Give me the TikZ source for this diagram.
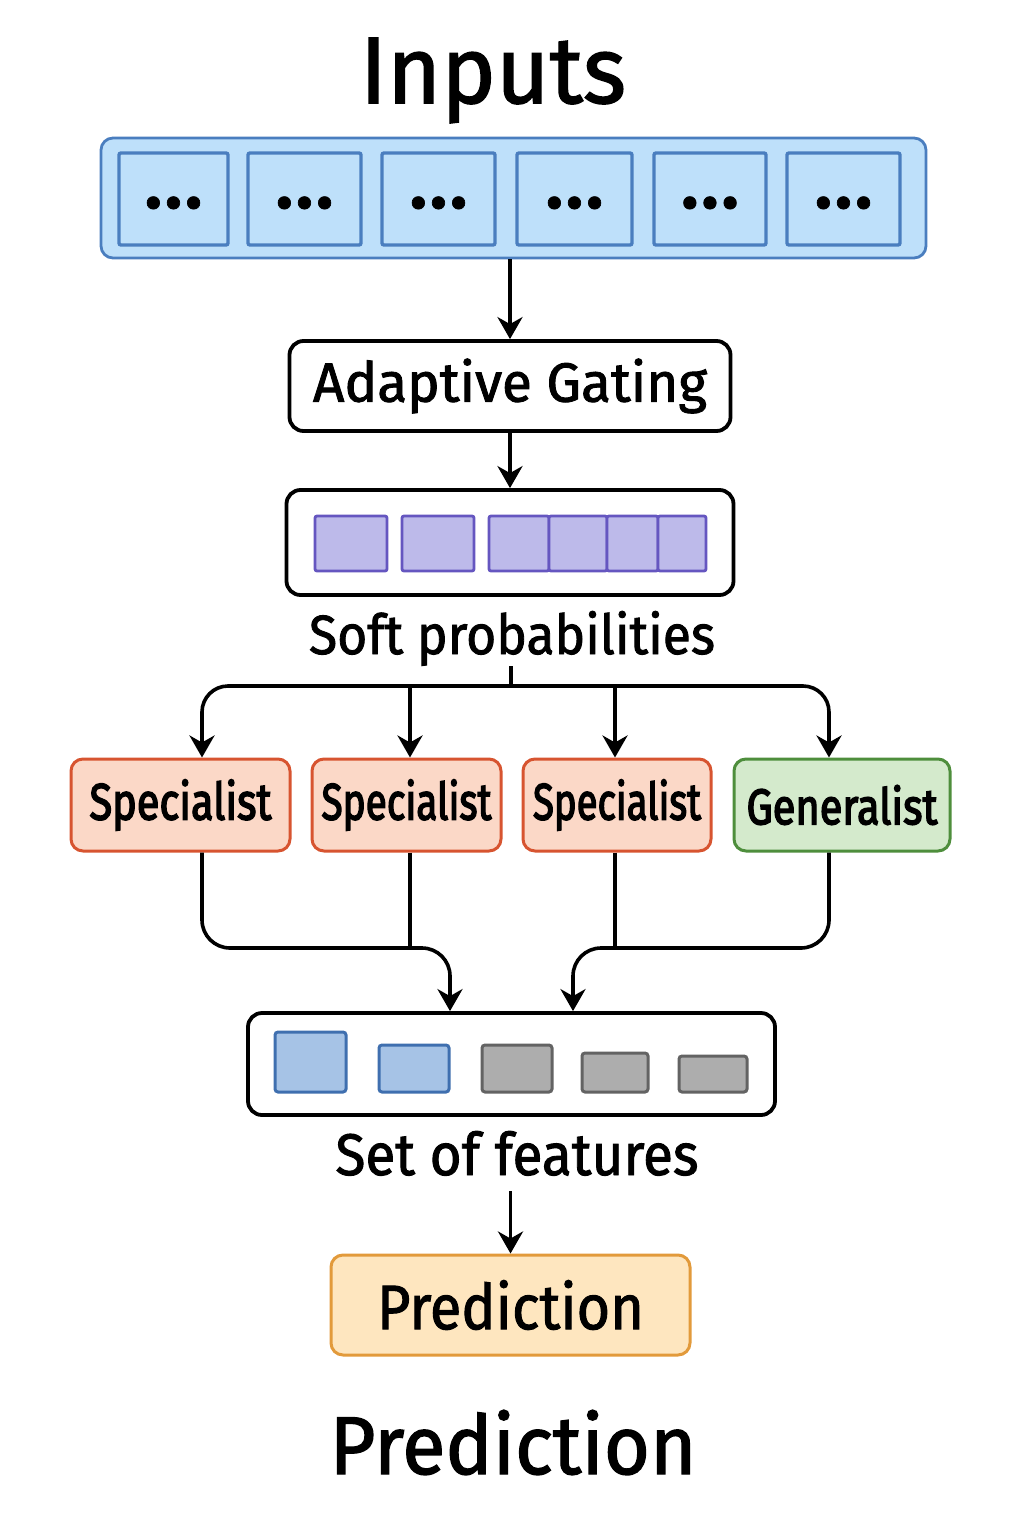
\documentclass[tikz,border=0pt]{standalone}
\usepackage{fontspec}
\setmainfont{Fira Sans}[FakeBold=1.2]
\newfontfamily\heavyfont{Fira Sans}[FakeBold=1.6]
\newfontfamily\semifont{Fira Sans}[FakeBold=3.2]
\usetikzlibrary{arrows.meta}
\definecolor{inpfill}{HTML}{BEE0FA}
\definecolor{inpdraw}{HTML}{4A7EBF}
\definecolor{purfill}{HTML}{BDBAEA}
\definecolor{purdraw}{HTML}{6556C0}
\definecolor{spfill}{HTML}{FBD8C7}
\definecolor{spdraw}{HTML}{D75430}
\definecolor{genfill}{HTML}{D4EACC}
\definecolor{gendraw}{HTML}{4E8E3C}
\definecolor{ftfill}{HTML}{A6C3E6}
\definecolor{ftdraw}{HTML}{3F6FAF}
\definecolor{gyfill}{HTML}{ADADAD}
\definecolor{gydraw}{HTML}{636363}
\definecolor{prfill}{HTML}{FEE6BF}
\definecolor{prdraw}{HTML}{E29A3B}
\newcommand{\threedots}{\raisebox{-11.5pt}[0pt][0pt]{\fontsize{28pt}{28pt}\selectfont\textbullet\kern1pt\textbullet\kern1pt\textbullet}}
\newcommand{\hv}[1]{{\heavyfont #1}}
\newcommand{\sm}[1]{{\semifont #1}}
\begin{document}
\begin{tikzpicture}[x=0.5pt,y=-0.5pt,
  box/.style={draw=black, line width=1.9pt, rounded corners=7pt, fill=white, inner sep=0pt},
  cell/.style={draw=inpdraw, fill=inpfill, line width=1.7pt, rounded corners=1pt, minimum height=46pt, inner sep=0pt},
  pur/.style={draw=purdraw, fill=purfill, line width=1.4pt, rounded corners=1pt, minimum height=27.5pt, inner sep=0pt},
  spec/.style={draw=spdraw, fill=spfill, line width=1.5pt, rounded corners=6pt, minimum height=46pt, inner sep=0pt},
  gen/.style={draw=gendraw, fill=genfill, line width=1.5pt, rounded corners=6pt, minimum height=46pt, inner sep=0pt},
  feat/.style={draw=ftdraw, fill=ftfill, line width=1.5pt, rounded corners=1.5pt, inner sep=0pt},
  grayf/.style={draw=gydraw, fill=gyfill, line width=1.5pt, rounded corners=1.5pt, inner sep=0pt},
  lbl/.style={anchor=base, inner sep=0pt},
  arr/.style={line width=1.8pt, -{Stealth[length=11pt,width=12.5pt,inset=3.5pt]}},
  ln/.style={line width=1.8pt}]
\useasboundingbox (0,0) rectangle (1024,1536);

% title
\node[lbl] (title) at (493,103) {\resizebox{133pt}{32.5pt}{\hv{Inputs}}};

% inputs
\node[draw=inpdraw, fill=inpfill, line width=1.4pt, rounded corners=6pt,
      minimum width=412.5pt, minimum height=60pt, inner sep=0pt] (inp) at (513.5,198) {};
\node[cell, minimum width=54.5pt] (c1) at (173.5,199) {\threedots};
\node[cell, minimum width=56.5pt] (c2) at (304.5,199) {\threedots};
\node[cell, minimum width=56.5pt] (c3) at (438.5,199) {\threedots};
\node[cell, minimum width=57.5pt] (c4) at (574.5,199) {\threedots};
\node[cell, minimum width=56pt]   (c5) at (710,199)   {\threedots};
\node[cell, minimum width=56.5pt] (c6) at (843.5,199) {\threedots};

% gating
\node[box, minimum width=220.5pt, minimum height=45pt] (gate) at (510,386)
  {\resizebox{197pt}{21.5pt}{\hv{Adaptive Gating}}};
\draw[arr] (inp.south -| gate.north) -- (gate.north);

% soft probabilities
\node[box, minimum width=223.5pt, minimum height=52.5pt] (soft) at (510,542.5) {};
\draw[arr] (gate.south) -- (soft.north);
\node[pur, minimum width=36pt] (pa) at (351,543.5) {};
\node[pur, minimum width=36pt] (pb) at (438,543.5) {};
\node[pur, minimum width=30pt] (pc1) at (519,543.5) {};
\node[pur, minimum width=29pt] (pc2) at (578,543.5) {};
\node[pur, minimum width=25.5pt] (pc3) at (632.5,543.5) {};
\node[pur, minimum width=24pt] (pc4) at (682,543.5) {};
\node[lbl] (softlab) at (512,654) {\resizebox{203pt}{21.5pt}{\hv{Soft probabilities}}};

% experts
\node[spec, minimum width=109.5pt] (s1) at (180.5,805) {\resizebox{91pt}{20pt}{\sm{Specialist}}};
\node[spec, minimum width=94.5pt]  (s2) at (406.5,805) {\resizebox{85pt}{20pt}{\sm{Specialist}}};
\node[spec, minimum width=94pt]    (s3) at (617,805)   {\resizebox{84pt}{20pt}{\sm{Specialist}}};
\node[gen,  minimum width=108pt]   (g)  at (842,805)   {\resizebox{95.5pt}{19.5pt}{\sm{Generalist}}};

\coordinate (j) at (511,686);
\coordinate (b1) at (202,686);
\coordinate (b2) at (410,686);
\coordinate (b3) at (615,686);
\coordinate (b4) at (829,686);
\draw[ln] (softlab.south -| j) -- (j);
\draw[arr, rounded corners=13pt] (j) -- (b1) -- (b1 |- s1.north);
\draw[arr] (b2) -- (b2 |- s2.north);
\draw[arr] (b3) -- (b3 |- s3.north);
\draw[arr, rounded corners=13pt] (j) -- (b4) -- (b4 |- g.north);

% features
\node[box, minimum width=263.5pt, minimum height=51pt] (fs) at (511.5,1064) {};
\coordinate (m1) at (202,948);
\coordinate (m2) at (410,948);
\coordinate (m3) at (615,948);
\coordinate (m4) at (829,948);
\coordinate (t1) at (450,948);
\coordinate (t2) at (573,948);
\draw[arr, rounded corners=14pt] (b1 |- s1.south) -- (m1) -- (t1) -- (t1 |- fs.north);
\draw[ln] (b2 |- s2.south) -- (m2);
\draw[ln] (b3 |- s3.south) -- (m3);
\draw[arr, rounded corners=14pt] (b4 |- g.south) -- (m4) -- (t2) -- (t2 |- fs.north);

\node[feat,  minimum width=35.5pt, minimum height=30pt]   (f1) at (310.5,1062) {};
\node[feat,  minimum width=35pt,   minimum height=23.5pt] (f2) at (414,1068.5) {};
\node[grayf, minimum width=35pt,   minimum height=23.5pt] (f3) at (517,1068.5) {};
\node[grayf, minimum width=33pt,   minimum height=19.5pt] (f4) at (615,1072.5) {};
\node[grayf, minimum width=34pt,   minimum height=18pt]   (f5) at (713,1074) {};
\node[lbl] (setlab) at (517,1175) {\resizebox{181.5pt}{22pt}{\hv{Set of features}}};

% prediction
\node[draw=prdraw, fill=prfill, line width=1.5pt, rounded corners=6pt, inner sep=0pt,
      minimum width=179.5pt, minimum height=50pt] (pred) at (510.5,1305)
  {\resizebox{133.5pt}{24.5pt}{\hv{Prediction}}};
\draw[arr] ([yshift=-7.5pt]setlab.south -| pred.north) -- (pred.north);

\node[lbl] (ptitle) at (513,1474) {\resizebox{183.5pt}{32pt}{\hv{Prediction}}};
\end{tikzpicture}
\end{document}
